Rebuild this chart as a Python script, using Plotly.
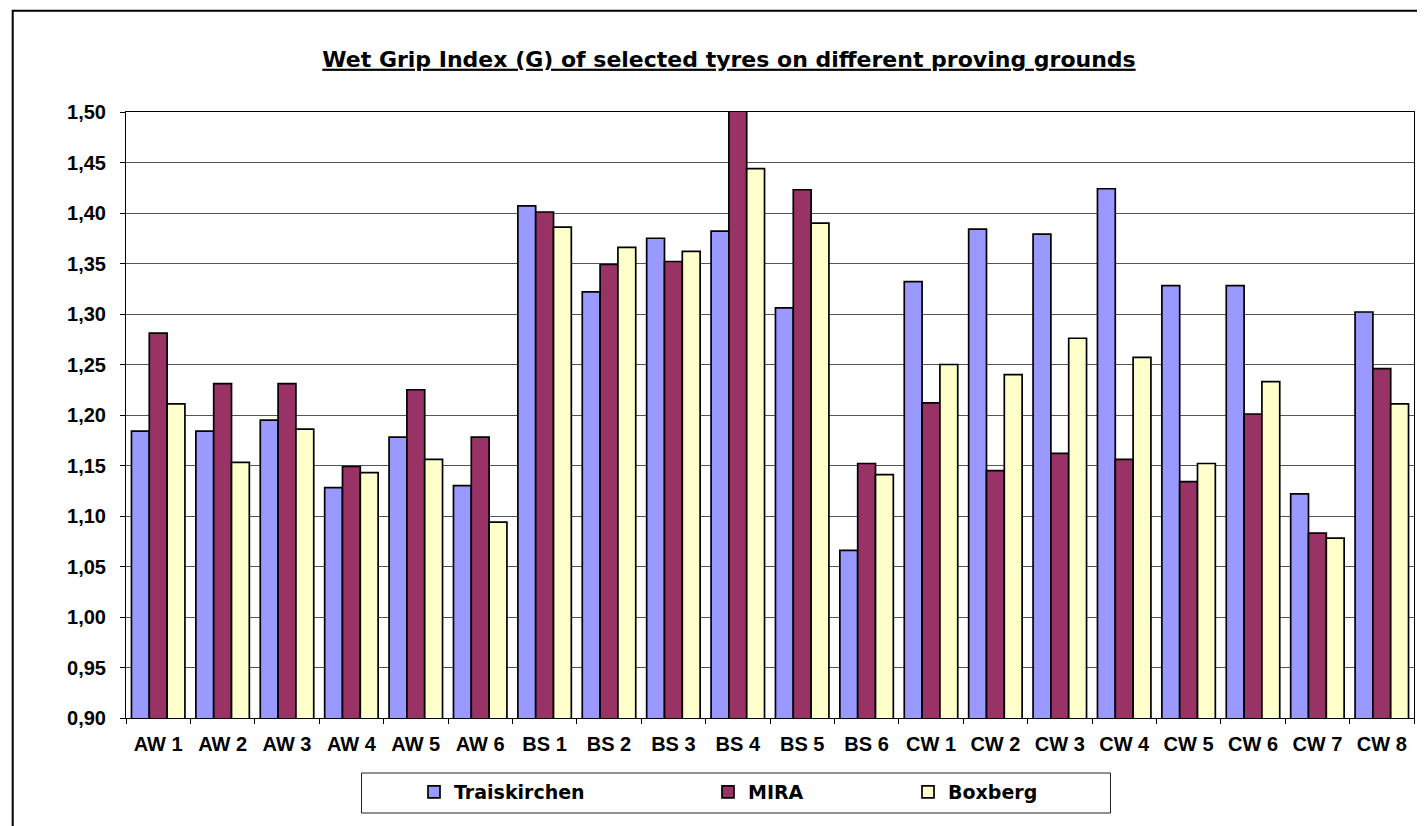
import plotly.graph_objects as go

categories = ["AW 1", "AW 2", "AW 3", "AW 4", "AW 5", "AW 6",
              "BS 1", "BS 2", "BS 3", "BS 4", "BS 5", "BS 6",
              "CW 1", "CW 2", "CW 3", "CW 4", "CW 5", "CW 6", "CW 7", "CW 8"]
traiskirchen = [1.184, 1.184, 1.195, 1.128, 1.178, 1.130,
                1.407, 1.322, 1.375, 1.382, 1.306, 1.066,
                1.332, 1.384, 1.379, 1.424, 1.328, 1.328, 1.122, 1.302]
mira = [1.281, 1.231, 1.231, 1.149, 1.225, 1.178,
        1.401, 1.349, 1.352, 1.505, 1.423, 1.152,
        1.212, 1.145, 1.162, 1.156, 1.134, 1.201, 1.083, 1.246]
boxberg = [1.211, 1.153, 1.186, 1.143, 1.156, 1.094,
           1.386, 1.366, 1.362, 1.444, 1.390, 1.141,
           1.250, 1.240, 1.276, 1.257, 1.152, 1.233, 1.078, 1.211]
y_ticks = [0.90, 0.95, 1.00, 1.05, 1.10, 1.15, 1.20, 1.25, 1.30, 1.35, 1.40, 1.45, 1.50]

# page body has an 8px margin: work in screen pixels, convert to figure pixels
OFF = 8
SW, SH = 1425, 826
W, H = SW - OFF, SH - OFF
PL, PR, PT, PB = 126, 1414, 112, 718          # plot area in screen px
ML, MT = PL - OFF, PT - OFF
MR, MB = SW - PR, SH - PB
PW, PH = PR - PL, PB - PT


def px_x(sx):
    return (sx - PL) / PW


def px_y(sy):
    return (PB - sy) / PH


series = [("Traiskirchen", traiskirchen, "#9999FF", "legend"),
          ("MIRA", mira, "#993366", "legend2"),
          ("Boxberg", boxberg, "#FFFFCC", "legend3")]

fig = go.Figure()
for name, vals, col, leg in series:
    fig.add_trace(go.Bar(
        x=categories, y=vals, name=name, legend=leg, showlegend=True,
        marker=dict(color=col, line=dict(color="black", width=1.7)),
    ))

tick_font = dict(family="Arial, Liberation Sans, sans-serif", size=20, color="black", weight="bold")
leg_font = dict(family="DejaVu Sans", size=19, color="black", weight="bold")

legend_common = dict(orientation="h", xanchor="left", yanchor="middle",
                     font=leg_font, bgcolor="rgba(0,0,0,0)", borderwidth=0,
                     xref="paper", yref="paper", visible=True)

fig.update_layout(
    width=W, height=H,
    margin=dict(l=ML, r=MR, t=MT, b=MB),
    paper_bgcolor="white", plot_bgcolor="white",
    separators=",.",
    showlegend=True,
    barmode="group", bargap=0.17, bargroupgap=0,
    title=dict(text="<b><u>Wet Grip Index (G) of selected tyres on different proving grounds</u></b>",
               font=dict(family="DejaVu Sans", size=22, color="black"),
               x=px_x(729), xref="paper", xanchor="center",
               y=1 - (59 - OFF) / H, yref="container", yanchor="middle"),
    legend=dict(x=px_x(431 - 17), y=px_y(792), **legend_common),
    legend2=dict(x=px_x(725 - 17), y=px_y(792), **legend_common),
    legend3=dict(x=px_x(925 - 17), y=px_y(792), **legend_common),
    xaxis=dict(type="category", showgrid=False, showline=True, linecolor="black", linewidth=1,
               mirror=True, ticks="outside", ticklen=5, tickcolor="black", tickson="boundaries",
               tickfont=tick_font, ticklabelstandoff=8),
    yaxis=dict(range=[0.9, 1.5], tickvals=y_ticks, tickformat=".2f",
               showgrid=True, gridcolor="#555555", gridwidth=1,
               showline=True, linecolor="black", linewidth=1, mirror=True,
               ticks="outside", ticklen=5, tickcolor="black",
               tickfont=tick_font, ticklabelstandoff=10, zeroline=False),
    shapes=[
        dict(type="rect", xref="paper", yref="paper",
             x0=px_x(12.7), x1=px_x(1445), y0=px_y(845), y1=px_y(10.7),
             line=dict(color="black", width=2), fillcolor="rgba(0,0,0,0)", layer="below"),
        dict(type="rect", xref="paper", yref="paper",
             x0=px_x(361.5), x1=px_x(1110.5), y0=px_y(813), y1=px_y(773),
             line=dict(color="#222222", width=1), fillcolor="rgba(0,0,0,0)"),
    ],
)

fig.write_html("out.html")
